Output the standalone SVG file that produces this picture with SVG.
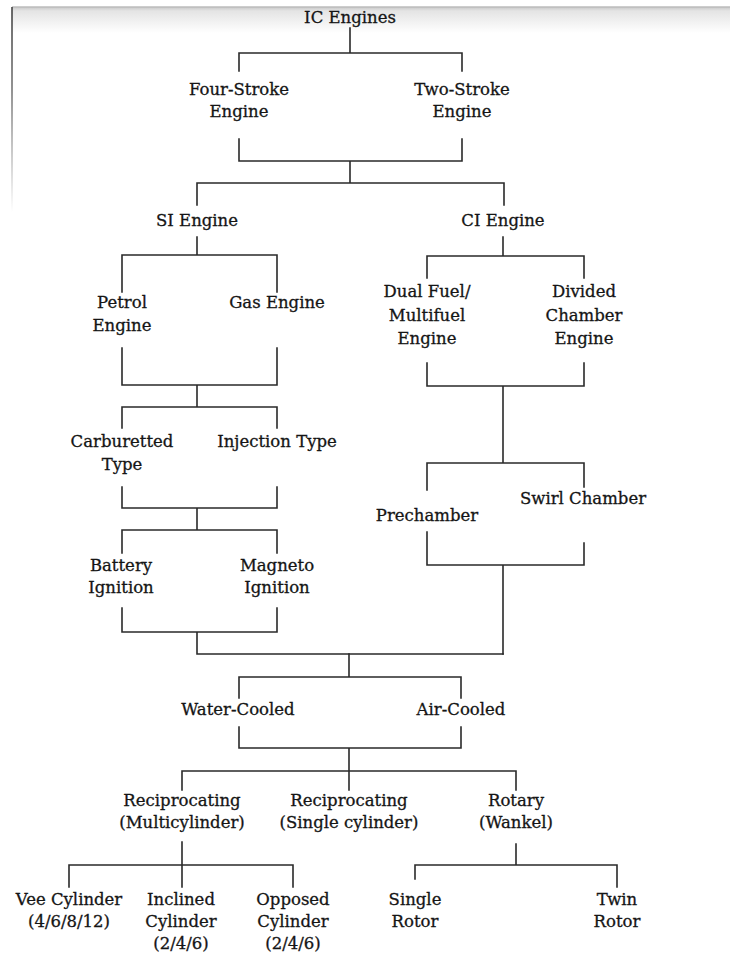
<svg xmlns="http://www.w3.org/2000/svg" width="730" height="958" viewBox="0 0 730 958">
  <defs>
    <linearGradient id="topShade" x1="0" y1="0" x2="0" y2="1">
      <stop offset="0" stop-color="#c8c8c8"/>
      <stop offset="0.15" stop-color="#e4e4e4"/>
      <stop offset="1" stop-color="#ffffff"/>
    </linearGradient>
    <linearGradient id="leftEdge" x1="0" y1="0" x2="0" y2="1">
      <stop offset="0" stop-color="#444"/>
      <stop offset="0.4" stop-color="#777"/>
      <stop offset="1" stop-color="#fff"/>
    </linearGradient>
    <style>
      .lbl { font-family: "DejaVu Serif", "Liberation Serif", serif; font-size: 16.5px; fill: #151515; stroke: #151515; stroke-width: 0.3; text-anchor: middle; }
      .con { fill: none; stroke: #2a2a2a; stroke-width: 1.6; stroke-linecap: square; }
    </style>
  </defs>
  <rect width="730" height="958" fill="#ffffff"/>
  <rect x="12" y="7" width="718" height="26" fill="url(#topShade)"/>
  <line x1="12" y1="7" x2="730" y2="7" stroke="#bdbdbd" stroke-width="1.5"/>
  <rect x="11.2" y="7" width="1.6" height="205" fill="url(#leftEdge)"/>

  <g id="connectors" class="con">
    <path d="M350 28 V53 M239 71 V53 H462 V71"/>
    <path d="M239 139 V161 H462 V139 M350 161 V183 M197 205 V183 H504 V205"/>
    <path d="M197 237 V255 M122 292 V255 H277 V292"/>
    <path d="M503 237 V256 M427 278 V256 H584 V278"/>
    <path d="M122 348 V385 H277 V348 M197 385 V407 M122 428 V407 H277 V428"/>
    <path d="M427 363 V386 H584 V363 M503 386 V463 M427 490 V463 H584 V487"/>
    <path d="M122 487 V508 H277 V487 M197 508 V530 M122 553 V530 H277 V553"/>
    <path d="M427 532 V565 H584 V543 M503 565 V654"/>
    <path d="M122 608 V632 H277 V608 M197 632 V654 H503"/>
    <path d="M349 654 V677 M239 698 V677 H461 V698"/>
    <path d="M239 727 V748 H461 V727 M349 748 V790 M182 790 V771 H516 V790"/>
    <path d="M182 842 V887 M69 887 V865 H293 V887"/>
    <path d="M516 844 V865 M415 879 V865 H617 V887"/>
  </g>

  <g id="ic-engines"><text class="lbl" x="350" y="23">IC Engines</text></g>
  <g id="four-stroke"><text class="lbl" x="239" y="95"><tspan x="239">Four-Stroke</tspan><tspan x="239" y="117">Engine</tspan></text></g>
  <g id="two-stroke"><text class="lbl" x="462" y="95"><tspan x="462">Two-Stroke</tspan><tspan x="462" y="117">Engine</tspan></text></g>
  <g id="si-engine"><text class="lbl" x="197" y="226">SI Engine</text></g>
  <g id="ci-engine"><text class="lbl" x="503" y="226">CI Engine</text></g>
  <g id="petrol-engine"><text class="lbl" x="122" y="308"><tspan x="122">Petrol</tspan><tspan x="122" y="331">Engine</tspan></text></g>
  <g id="gas-engine"><text class="lbl" x="277" y="308">Gas Engine</text></g>
  <g id="dual-fuel"><text class="lbl" x="427" y="297"><tspan x="427">Dual Fuel/</tspan><tspan x="427" y="321">Multifuel</tspan><tspan x="427" y="344">Engine</tspan></text></g>
  <g id="divided-chamber"><text class="lbl" x="584" y="297"><tspan x="584">Divided</tspan><tspan x="584" y="321">Chamber</tspan><tspan x="584" y="344">Engine</tspan></text></g>
  <g id="carburetted"><text class="lbl" x="122" y="447"><tspan x="122">Carburetted</tspan><tspan x="122" y="470">Type</tspan></text></g>
  <g id="injection"><text class="lbl" x="277" y="447">Injection Type</text></g>
  <g id="prechamber"><text class="lbl" x="427" y="521">Prechamber</text></g>
  <g id="swirl-chamber"><text class="lbl" x="583" y="504">Swirl Chamber</text></g>
  <g id="battery"><text class="lbl" x="121" y="571"><tspan x="121">Battery</tspan><tspan x="121" y="593">Ignition</tspan></text></g>
  <g id="magneto"><text class="lbl" x="277" y="571"><tspan x="277">Magneto</tspan><tspan x="277" y="593">Ignition</tspan></text></g>
  <g id="water-cooled"><text class="lbl" x="238" y="715">Water-Cooled</text></g>
  <g id="air-cooled"><text class="lbl" x="461" y="715">Air-Cooled</text></g>
  <g id="recip-multi"><text class="lbl" x="182" y="806"><tspan x="182">Reciprocating</tspan><tspan x="182" y="828">(Multicylinder)</tspan></text></g>
  <g id="recip-single"><text class="lbl" x="349" y="806"><tspan x="349">Reciprocating</tspan><tspan x="349" y="828">(Single cylinder)</tspan></text></g>
  <g id="rotary"><text class="lbl" x="516" y="806"><tspan x="516">Rotary</tspan><tspan x="516" y="828">(Wankel)</tspan></text></g>
  <g id="vee"><text class="lbl" x="69" y="905"><tspan x="69">Vee Cylinder</tspan><tspan x="69" y="927">(4/6/8/12)</tspan></text></g>
  <g id="inclined"><text class="lbl" x="181" y="905"><tspan x="181">Inclined</tspan><tspan x="181" y="927">Cylinder</tspan><tspan x="181" y="949">(2/4/6)</tspan></text></g>
  <g id="opposed"><text class="lbl" x="293" y="905"><tspan x="293">Opposed</tspan><tspan x="293" y="927">Cylinder</tspan><tspan x="293" y="949">(2/4/6)</tspan></text></g>
  <g id="single-rotor"><text class="lbl" x="415" y="905"><tspan x="415">Single</tspan><tspan x="415" y="927">Rotor</tspan></text></g>
  <g id="twin-rotor"><text class="lbl" x="617" y="905"><tspan x="617">Twin</tspan><tspan x="617" y="927">Rotor</tspan></text></g>
</svg>
